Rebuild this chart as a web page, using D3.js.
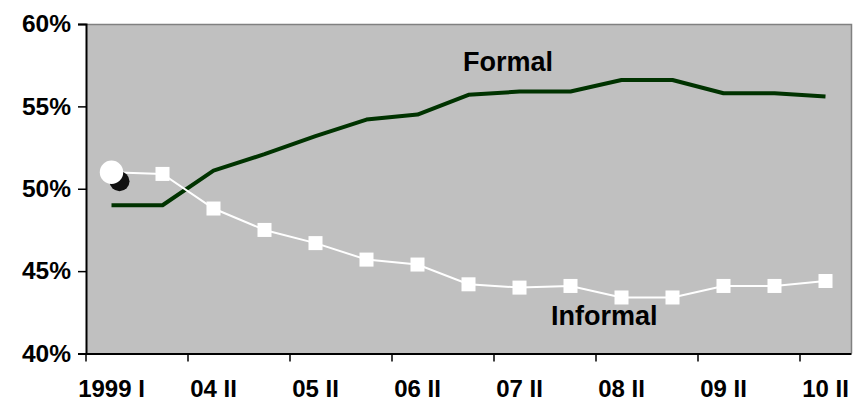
<!DOCTYPE html>
<html>
<head>
<meta charset="utf-8">
<script src="https://cdn.jsdelivr.net/npm/d3@7"></script>
<style>
  body { margin: 0; background: #fff; }
  text { font-family: Arial, "Liberation Sans", sans-serif; font-weight: bold; }
</style>
</head>
<body>
<svg id="chart" width="853" height="402"></svg>
<script>
// data
var categories = ["1999 I", "04 I", "04 II", "05 I", "05 II", "06 I", "06 II", "07 I",
                  "07 II", "08 I", "08 II", "09 I", "09 II", "10 I", "10 II"];
var formal   = [49.0, 49.0, 51.1, 52.1, 53.2, 54.2, 54.5, 55.7, 55.9, 55.9, 56.6, 56.6, 55.8, 55.8, 55.6];
var informal = [51.0, 50.9, 48.8, 47.5, 46.7, 45.7, 45.4, 44.2, 44.0, 44.1, 43.4, 43.4, 44.1, 44.1, 44.4];
var yTicks = [40, 45, 50, 55, 60];

var svg = d3.select("#chart");
// plot area edges
var pLeft = 86, pRight = 851, pTop = 24, pBottom = 353.5;

var x = d3.scaleBand().domain(categories).range([pLeft, pRight]).padding(0);
var y = d3.scaleLinear().domain([40, 60]).range([pBottom, pTop]);
var bw = x.bandwidth();
var cx = function(d, i) { return x(categories[i]) + bw / 2; };

// plot area
svg.append("rect")
  .attr("x", pLeft).attr("y", pTop)
  .attr("width", pRight - pLeft).attr("height", pBottom - pTop)
  .attr("fill", "#c0c0c0");

// gray top / right border
svg.append("path")
  .attr("d", "M" + pLeft + "," + (pTop + 0.5) + "H" + (pRight + 0.5) + "V" + pBottom)
  .attr("fill", "none")
  .attr("stroke", "#808080")
  .attr("stroke-width", 1.5);

// y axis
var yAxis = svg.append("g")
  .attr("transform", "translate(" + pLeft + ",0)")
  .call(d3.axisLeft(y).tickValues(yTicks).tickSize(8).tickPadding(7)
    .tickFormat(function(d) { return d + "%"; }));
yAxis.select(".domain").attr("stroke", "#000").attr("stroke-width", 2);
yAxis.selectAll(".tick line").attr("stroke", "#000").attr("stroke-width", 1.5);
yAxis.selectAll("text").attr("font-size", 24.5).attr("fill", "#000")
  .attr("font-family", "Arial, 'Liberation Sans', sans-serif").attr("font-weight", "bold");

// x axis, label every second category, ticks on band edges
var shown = categories.filter(function(d, i) { return i % 2 === 0; });
var xAxis = svg.append("g")
  .attr("transform", "translate(0," + pBottom + ")")
  .call(d3.axisBottom(x).tickValues(shown).tickSize(8).tickPadding(18).tickSizeOuter(0));
xAxis.select(".domain").attr("stroke", "#000").attr("stroke-width", 2);
xAxis.selectAll(".tick line")
  .attr("x1", -bw / 2).attr("x2", -bw / 2)
  .attr("stroke", "#000").attr("stroke-width", 1.5);
xAxis.selectAll("text").attr("font-size", 24).attr("fill", "#000")
  .attr("font-family", "Arial, 'Liberation Sans', sans-serif").attr("font-weight", "bold");

// formal line
var line = d3.line().x(cx).y(function(d) { return y(d); });
svg.append("path")
  .datum(formal)
  .attr("d", line)
  .attr("fill", "none")
  .attr("stroke", "#003300")
  .attr("stroke-width", 4)
  .attr("stroke-linejoin", "round");

// informal line
svg.append("path")
  .datum(informal)
  .attr("d", line)
  .attr("fill", "none")
  .attr("stroke", "#fff")
  .attr("stroke-width", 2);

// square markers (skip first point, which has the round marker)
svg.selectAll(".sq")
  .data(informal.slice(1))
  .enter()
  .append("rect")
  .attr("class", "sq")
  .attr("x", function(d, i) { return cx(d, i + 1) - 7; })
  .attr("y", function(d) { return y(d) - 7; })
  .attr("width", 14).attr("height", 14)
  .attr("fill", "#fff");

// round marker on first point with a dark shadow
svg.append("circle")
  .attr("cx", cx(informal[0], 0) + 8)
  .attr("cy", y(informal[0]) + 9)
  .attr("r", 10)
  .attr("fill", "#111");
svg.append("circle")
  .attr("cx", cx(informal[0], 0))
  .attr("cy", y(informal[0]))
  .attr("r", 11.7)
  .attr("fill", "#fff");

// series labels
svg.append("text")
  .attr("x", 463).attr("y", 71)
  .attr("font-size", 27)
  .attr("fill", "#000")
  .text("Formal");

svg.append("text")
  .attr("x", 551).attr("y", 324.5)
  .attr("font-size", 27)
  .attr("fill", "#000")
  .text("Informal");
</script>
</body>
</html>
